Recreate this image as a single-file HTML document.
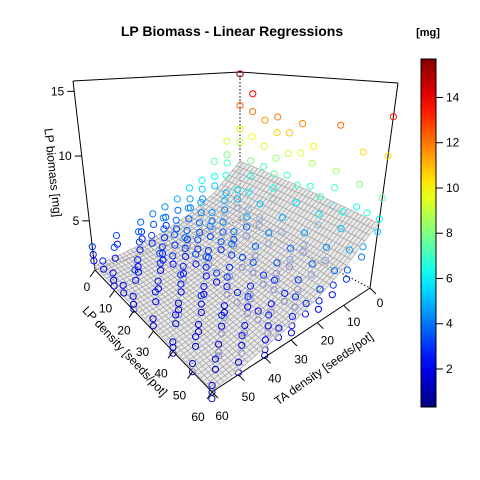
<!DOCTYPE html>
<html><head><meta charset="utf-8"><style>
body{margin:0;background:#fff;}
svg{display:block;font-family:"Liberation Sans",sans-serif;}
</style></head><body>
<svg id="chart" width="480" height="480" viewBox="0 0 480 480">
<rect width="480" height="480" fill="#fff"/>
<text x="232" y="36" text-anchor="middle" font-size="14" font-weight="bold">LP Biomass - Linear Regressions</text>
<text x="428" y="36" text-anchor="middle" font-size="11" font-weight="bold">[mg]</text>
<g id="box"></g>
<g id="under"></g>
<g id="surf"></g>
<g id="over"></g>
<g id="axes"></g>
<g id="cbar"></g>
</svg>
<script>
// ---- data ----
const lpTicks=[0,10,20,30,40,50,60];
const taTicks=[0,10,20,30,40,50,60];
const zTicks=[5,10,15];
const cbTicks=[2,4,6,8,10,12,14];
const surfTA=[0,10,20,30,40,50,60];
const surfAtLP0=[7.0,4.6,3.3,2.5,2.0,1.7,1.5];
const surfAtLP60=[5.8,3.9,2.8,2.1,1.7,1.4,1.25];
const ptLP=[0,0,0,0,5,5,5,10,10,10,15,15,15,20,20,20,25,25,30,30,30,40,40,40,40,50,50,50,60,60,60,60,60,
0,0,0,10,10,20,20,20,30,30,40,40,40,50,50,60,60,60,
0,0,0,5,5,10,10,10,15,15,20,20,20,30,30,40,40,40,50,50,60,60,60,
0,0,0,10,10,10,20,20,20,30,30,40,40,40,50,50,60,60,60,
0,0,0,5,5,10,10,10,15,15,20,20,20,30,30,40,40,40,50,50,60,60,60,
0,0,10,10,20,20,30,30,40,40,50,50,60,60,
0,0,0,5,5,10,10,10,15,15,20,20,20,30,30,40,40,40,50,50,60,60,60,
0,0,0,5,5,10,10,10,15,15,20,20,20,30,30,40,40,40,50,50,60,60,60,
0,0,10,10,10,20,20,30,30,30,40,40,50,50,50,60,60,
0,0,0,5,5,10,10,10,15,15,20,20,20,30,30,40,40,40,50,50,60,60,60,
5,5,5,15,15,15,25,25,25,35,35,35,45,45,45,55,55,55,
5,5,5,15,15,15,25,25,25,35,35,35,45,45,45,55,55,55,
5,5,15,15,25,25,35,35,45,45,55,55,
5,5,15,15,25,25,35,35,45,45,55,55,
0,0,10,10,20,20,30,30,40,40,50,50,60,60];
const ptTA=[0,0,0,0,0,0,0,0,0,0,0,0,0,0,0,0,0,0,0,0,0,0,0,0,0,0,0,0,0,0,0,0,0,
5,5,5,5,5,5,5,5,5,5,5,5,5,5,5,5,5,5,
10,10,10,10,10,10,10,10,10,10,10,10,10,10,10,10,10,10,10,10,10,10,10,
15,15,15,15,15,15,15,15,15,15,15,15,15,15,15,15,15,15,15,
20,20,20,20,20,20,20,20,20,20,20,20,20,20,20,20,20,20,20,20,20,20,20,
25,25,25,25,25,25,25,25,25,25,25,25,25,25,
30,30,30,30,30,30,30,30,30,30,30,30,30,30,30,30,30,30,30,30,30,30,30,
40,40,40,40,40,40,40,40,40,40,40,40,40,40,40,40,40,40,40,40,40,40,40,
50,50,50,50,50,50,50,50,50,50,50,50,50,50,50,50,50,
60,60,60,60,60,60,60,60,60,60,60,60,60,60,60,60,60,60,60,60,60,60,60,
35,35,35,35,35,35,35,35,35,35,35,35,35,35,35,35,35,35,
45,45,45,45,45,45,45,45,45,45,45,45,45,45,45,45,45,45,
55,55,55,55,55,55,55,55,55,55,55,55,
25,25,25,25,25,25,25,25,25,25,25,25,
35,35,35,35,35,35,35,35,35,35,35,35,35,35];
const ptBio=[15.6,12.5,10.2,8.9,13.8,12.1,9.7,11.5,9.1,7.2,12.0,10.6,8.3,10.8,9.0,7.1,11.8,9.3,10.1,8.7,6.8,12.2,8.6,7.3,5.9,10.5,8.1,6.4,13.4,10.6,7.6,6.1,5.2,
9.2,7.9,7.1,8.0,6.6,7.5,6.3,5.4,7.2,5.8,6.9,5.6,4.8,6.4,5.2,6.9,4.6,3.9,
7.5,6.1,5.2,6.6,5.0,5.7,4.9,4.1,5.9,4.4,5.3,4.2,3.6,5.0,3.9,4.6,3.7,3.2,4.3,3.4,4.8,3.5,2.9,
6.0,5.2,4.3,5.1,4.3,3.6,4.6,3.8,3.1,4.2,3.4,3.9,3.1,2.6,3.6,2.9,3.9,3.0,2.4,
5.6,4.6,3.8,4.8,3.9,4.4,3.7,3.0,4.1,3.3,3.8,3.2,2.7,3.6,2.9,3.3,2.6,2.2,3.0,2.4,3.2,2.5,2.0,
4.9,3.9,3.9,3.1,3.4,2.8,3.2,2.5,2.9,2.3,2.6,2.1,2.8,2.2,
4.5,3.6,2.9,3.9,3.2,3.6,2.9,2.4,3.4,2.7,3.1,2.6,2.1,2.9,2.3,2.6,2.1,1.8,2.4,1.9,2.5,2.0,1.6,
3.8,3.0,2.4,3.3,2.7,3.0,2.5,2.0,2.9,2.3,2.7,2.2,1.8,2.4,1.9,2.2,1.8,1.5,2.0,1.6,2.1,1.6,1.3,
3.3,2.6,2.7,2.2,1.8,2.4,1.9,2.1,1.7,1.4,1.9,1.5,1.8,1.4,1.2,1.8,1.3,
3.0,2.4,1.9,2.6,2.0,2.4,1.9,1.5,2.2,1.7,2.1,1.6,1.3,1.9,1.5,1.7,1.4,1.1,1.6,1.2,1.5,1.2,0.9,
4.4,3.5,2.8,3.9,3.1,2.5,3.5,2.8,2.2,3.1,2.5,2.0,2.8,2.2,1.8,2.6,2.0,1.6,
3.9,3.1,2.5,3.4,2.7,2.2,3.0,2.4,1.9,2.7,2.2,1.7,2.5,1.9,1.5,2.3,1.8,1.4,
3.3,2.5,2.9,2.2,2.6,2.0,2.3,1.8,2.1,1.6,1.9,1.4,
4.6,3.7,4.1,3.3,3.7,2.9,3.3,2.6,3.0,2.4,2.8,2.2,
4.2,3.3,3.6,2.8,3.2,2.5,2.9,2.3,2.6,2.0,2.4,1.9,2.3,1.8];

// ---- projection ----
const ZMIN=1.2,ZMAX=15.8,CMIN=0.32,CMAX=15.7;
const C={b00:[240,220],b06:[95,270],b60:[370,288],b66:[212,392],
         t00:[240,72],t06:[73,81],t60:[398,83],t66:[215,70]};
function lerp(a,b,t){return [a[0]+(b[0]-a[0])*t,a[1]+(b[1]-a[1])*t];}
function P(lp,ta,z){
  const u=lp/60,v=ta/60,w=(z-ZMIN)/(ZMAX-ZMIN);
  const b=lerp(lerp(C.b00,C.b06,v),lerp(C.b60,C.b66,v),u);
  const t=lerp(lerp(C.t00,C.t06,v),lerp(C.t60,C.t66,v),u);
  return lerp(b,t,w);
}
function surfZ(lp,ta){
  let i=Math.min(surfTA.length-2,Math.floor(ta/10));
  const f=(ta-surfTA[i])/(surfTA[i+1]-surfTA[i]);
  const a=surfAtLP0[i]+(surfAtLP0[i+1]-surfAtLP0[i])*f;
  const b=surfAtLP60[i]+(surfAtLP60[i+1]-surfAtLP60[i])*f;
  return a+(b-a)*lp/60;
}
function jet(t){
  t=Math.max(0,Math.min(1,t));
  const c=x=>Math.round(255*Math.max(0,Math.min(1,1.5-Math.abs(x))));
  return `rgb(${c(4*t-3)},${c(4*t-2)},${c(4*t-1)})`;
}
const NS="http://www.w3.org/2000/svg";
function el(tag,attrs,parent){const e=document.createElementNS(NS,tag);for(const k in attrs)e.setAttribute(k,attrs[k]);parent.appendChild(e);return e;}
const box=document.getElementById('box'),under=document.getElementById('under'),surf=document.getElementById('surf'),over=document.getElementById('over'),axes=document.getElementById('axes'),cbar=document.getElementById('cbar');
function line(a,b,parent,extra,name){
  const l=el('line',Object.assign({x1:a[0],y1:a[1],x2:b[0],y2:b[1],stroke:'#000','stroke-width':1},extra||{}),parent);
  
  
  return l;
}
// box
const pb00=P(0,0,ZMIN),pb06=P(0,60,ZMIN),pb60=P(60,0,ZMIN),pb66=P(60,60,ZMIN);
const pt00=P(0,0,ZMAX),pt06=P(0,60,ZMAX),pt60=P(60,0,ZMAX);
line(pb00,pt00,box,{'stroke-dasharray':'1.5,2'},'hidden-back-edge');
line(pb00,pb60,box,{'stroke-dasharray':'1.5,2'},'hidden-bottom-edge');
line(pb00,pb06,box,{'stroke-dasharray':'1.5,2'},'hidden-bottom-edge');
line(pb06,pt06,box,{},'box-edge');
line(pt06,pt00,box,{},'box-edge');
line(pt00,pt60,box,{},'box-edge');
line(pt60,pb60,box,{},'box-edge');
line(pb60,pb66,box,{},'box-edge');
line(pb66,pb06,box,{},'box-edge');
// points
for(let i=0;i<ptBio.length;i++){
  const z=ptBio[i],p=P(ptLP[i],ptTA[i],z);
  const g=z>=surfZ(ptLP[i],ptTA[i])?over:under;
  const c=el('circle',{cx:p[0].toFixed(1),cy:p[1].toFixed(1),r:3.1,fill:'none',stroke:jet((z-CMIN)/(CMAX-CMIN)),'stroke-width':1},g);
  
  
}
// surface
const N=40;
for(let s=0;s<=2*N-2;s++){
  for(let i=0;i<N;i++){const j=s-i;if(j<0||j>=N)continue;
    const l0=i*60/N,l1=(i+1)*60/N,a0=j*60/N,a1=(j+1)*60/N;
    const q=[P(l0,a0,surfZ(l0,a0)),P(l1,a0,surfZ(l1,a0)),P(l1,a1,surfZ(l1,a1)),P(l0,a1,surfZ(l0,a1))];
    const pg=el('polygon',{points:q.map(p=>p[0].toFixed(1)+','+p[1].toFixed(1)).join(' '),fill:'rgba(220,220,220,0.6)',stroke:'#a0a0a0','stroke-width':0.6},surf);
    
    
  }
}
// axis ticks
function txt(x,y,s,parent,attrs,name){
  const t=el('text',Object.assign({x:x,y:y,'font-size':12,'text-anchor':'middle'},attrs||{}),parent);
  t.textContent=s;
  
  
  return t;
}
lpTicks.forEach(v=>{
  const p=P(v,60,ZMIN),f=v/60;
  line(p,[p[0]-5,p[1]+7],axes,{},'lp-tick');
  txt(p[0]-8-f*6,p[1]+21+f*8,String(v),axes,{},'lp-tick-label');
});
taTicks.forEach(v=>{
  const p=P(60,v,ZMIN),f=v/60;
  line(p,[p[0]+6,p[1]+6],axes,{},'ta-tick');
  txt(p[0]+10,p[1]+19+f*9,String(v),axes,{},'ta-tick-label');
});
zTicks.forEach(v=>{
  const p=P(0,60,v);
  line(p,[p[0]-7,p[1]],axes,{},'z-tick');
  txt(p[0]-10,p[1]+4,String(v),axes,{'text-anchor':'end'},'z-tick-label');
});
txt(0,0,'LP biomass [mg]',axes,{transform:'translate(49,173) rotate(84)'},'z-axis-title');
txt(0,0,'LP density [seeds/pot]',axes,{transform:'translate(122,354) rotate(47)'},'lp-axis-title');
txt(0,0,'TA density [seeds/pot]',axes,{transform:'translate(326,372) rotate(-35)'},'ta-axis-title');
// colorbar
const CB={x:421,w:15,top:59,bot:407};
const defs=el('defs',{},cbar);
const lg=el('linearGradient',{id:'jetg',x1:0,y1:1,x2:0,y2:0},defs);
for(let k=0;k<=20;k++){el('stop',{offset:k/20,'stop-color':jet(k/20)},lg);}
const r=el('rect',{x:CB.x,y:CB.top,width:CB.w,height:CB.bot-CB.top,fill:'url(#jetg)',stroke:'#000','stroke-width':1},cbar);


cbTicks.forEach(v=>{
  const y=CB.bot-(v-CMIN)/(CMAX-CMIN)*(CB.bot-CB.top);
  line([CB.x+CB.w,y],[CB.x+CB.w+7,y],cbar,{},'colorbar-tick');
  txt(446,y+4,String(v),cbar,{'text-anchor':'start'},'colorbar-tick-label');
});
</script>
</body></html>
